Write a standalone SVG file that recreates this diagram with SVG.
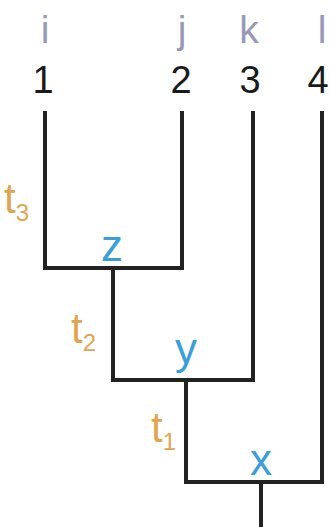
<svg xmlns="http://www.w3.org/2000/svg" width="330" height="527" viewBox="0 0 330 527">
<style>
.leaf{font-family:"Liberation Sans",Arial,sans-serif;font-size:39px;fill:#9a98b8;text-anchor:middle}
.num{font-family:"Liberation Sans",Arial,sans-serif;font-size:38px;fill:#1a1a1a;text-anchor:middle}
.node{font-family:"Liberation Sans",Arial,sans-serif;font-size:44px;fill:#3a9fd6;text-anchor:middle}
.t{font-family:"Liberation Sans",Arial,sans-serif;font-size:42px;fill:#e0a552}
.sub{font-size:24px}
.edge{fill:none;stroke:#222;stroke-width:4;stroke-linecap:square;stroke-linejoin:miter}
</style>
<rect width="330" height="527" fill="#fff"/>
<g id="connectors">
<path class="edge" d="M45,113 V268 H182 V113"/>
<path class="edge" d="M113,268 V380 H253 V113"/>
<path class="edge" d="M186,380 V482 H322 V113"/>
<path class="edge" d="M261,482 V527"/>
</g>
<g id="leaf1"><text class="leaf" x="45" y="43">i</text><text class="num" x="43" y="93">1</text></g>
<g id="leaf2"><text class="leaf" x="182" y="43">j</text><text class="num" x="181" y="93">2</text></g>
<g id="leaf3"><text class="leaf" x="249" y="43">k</text><text class="num" x="250" y="93">3</text></g>
<g id="leaf4"><text class="leaf" x="322" y="43">l</text><text class="num" x="318" y="93">4</text></g>
<g id="z"><text class="node" x="112" y="261">z</text></g>
<g id="y"><text class="node" x="186" y="364">y</text></g>
<g id="x"><text class="node" x="261" y="475">x</text></g>
<g id="t3"><text class="t" x="4" y="213">t<tspan class="sub" dy="8">3</tspan></text></g>
<g id="t2"><text class="t" x="71" y="343">t<tspan class="sub" dy="8">2</tspan></text></g>
<g id="t1"><text class="t" x="151" y="442">t<tspan class="sub" dy="8">1</tspan></text></g>
</svg>
